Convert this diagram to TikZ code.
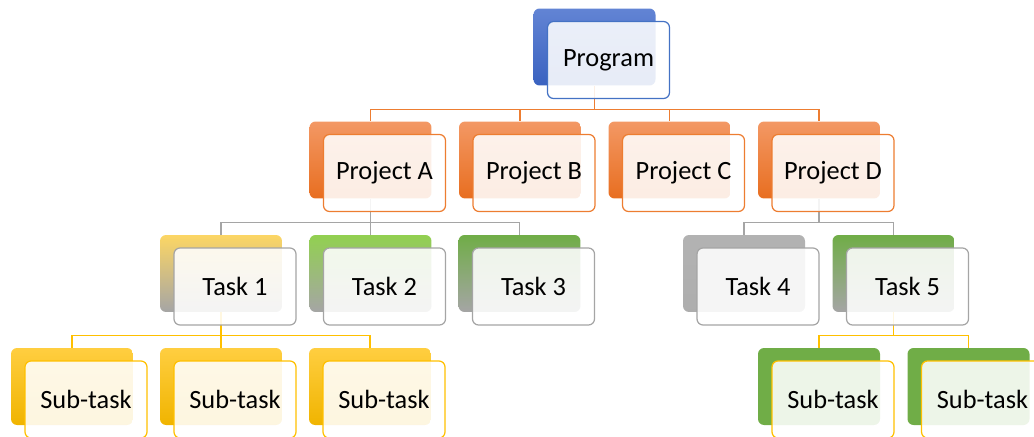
\documentclass[tikz,border=0pt]{standalone}
\usepackage{fontspec}
\setmainfont{Carlito}
\usetikzlibrary{backgrounds}
\definecolor{wbsblue}{RGB}{68,114,196}
\definecolor{progtop}{RGB}{98,132,212}
\definecolor{progbot}{RGB}{58,98,192}
\definecolor{wbsorange}{RGB}{237,125,49}
\definecolor{projtop}{RGB}{243,152,100}
\definecolor{projbot}{RGB}{232,110,32}
\definecolor{wbsgray}{RGB}{165,165,165}
\definecolor{wbsyellow}{RGB}{252,214,100}
\definecolor{wbslime}{RGB}{146,208,80}
\definecolor{wbsgreen}{RGB}{112,173,71}
\definecolor{wbsgold}{RGB}{255,192,0}
\definecolor{subtop}{RGB}{255,206,64}
\definecolor{subbot}{RGB}{240,180,0}

% back tile plus the lighter card on top of it
\newcommand{\chartbox}[5]{%
  \node[backbox,#3,xshift=-0.28cm,yshift=0.26cm] (#1-b) at (#2) {};
  \node[frontbox,#4] (#1) at (#2) {#5};
}

\begin{document}
\begin{tikzpicture}[x=0.02cm,y=-0.02cm,
  backbox/.style={rounded corners=1.2mm,minimum width=2.44cm,minimum height=1.54cm,
                  inner sep=0pt},
  frontbox/.style={draw,line width=0.7pt,rounded corners=1.2mm,fill=white,
                   fill opacity=0.88,text opacity=1,minimum width=2.44cm,
                   minimum height=1.54cm,inner sep=0pt,
                   font=\fontsize{15}{18}\selectfont},
  link/.style={line width=0.6pt}]
  \useasboundingbox (0,0) rectangle (1034,436);

  % top level
  \chartbox{prog}{608.5,60}{top color=progtop,bottom color=progbot}{draw=wbsblue}{Program}

  % projects
  \chartbox{pa}{384.5,173}{top color=projtop,bottom color=projbot}{draw=wbsorange}{Project A}
  \chartbox{pb}{534,173}{top color=projtop,bottom color=projbot}{draw=wbsorange}{Project B}
  \chartbox{pc}{683.5,173}{top color=projtop,bottom color=projbot}{draw=wbsorange}{Project C}
  \chartbox{pd}{833,173}{top color=projtop,bottom color=projbot}{draw=wbsorange}{Project D}

  % tasks
  \chartbox{t1}{235,286.5}{top color=wbsyellow,bottom color=wbsgray}{draw=wbsgray}{Task 1}
  \chartbox{t2}{384.5,286.5}{top color=wbslime,bottom color=wbsgray}{draw=wbsgray}{Task 2}
  \chartbox{t3}{533.5,286.5}{top color=wbsgreen,bottom color=wbsgray}{draw=wbsgray}{Task 3}
  \chartbox{t4}{758,286.5}{top color=wbsgray!85,bottom color=wbsgray!105!black}{draw=wbsgray}{Task 4}
  \chartbox{t5}{907.5,286.5}{top color=wbsgreen,bottom color=wbsgray}{draw=wbsgray}{Task 5}

  % sub-tasks
  \chartbox{s1}{86,399.5}{top color=subtop,bottom color=subbot}{draw=wbsgold}{Sub-task}
  \chartbox{s2}{235,399.5}{top color=subtop,bottom color=subbot}{draw=wbsgold}{Sub-task}
  \chartbox{s3}{384,399.5}{top color=subtop,bottom color=subbot}{draw=wbsgold}{Sub-task}
  \chartbox{s4}{833,399.5}{fill=wbsgreen}{draw=wbsgold}{Sub-task}
  \chartbox{s5}{982.5,399.5}{fill=wbsgreen}{draw=wbsgold}{Sub-task}

  % elbow connectors, kept behind the cards
  \begin{pgfonlayer}{background}
    \foreach \p in {pa,pb,pc,pd}
      \draw[link,wbsorange] (prog-b.south) -- ++(0,23.5) -| (\p-b.north);
    \foreach \t in {t1,t2,t3}
      \draw[link,wbsgray] (pa-b.south) -- ++(0,23.5) -| (\t-b.north);
    \foreach \t in {t4,t5}
      \draw[link,wbsgray] (pd-b.south) -- ++(0,23.5) -| (\t-b.north);
    \foreach \s in {s1,s2,s3}
      \draw[link,wbsgold] (t1-b.south) -- ++(0,23.5) -| (\s-b.north);
    \foreach \s in {s4,s5}
      \draw[link,wbsgold] (t5-b.south) -- ++(0,23.5) -| (\s-b.north);
  \end{pgfonlayer}
\end{tikzpicture}
\end{document}
